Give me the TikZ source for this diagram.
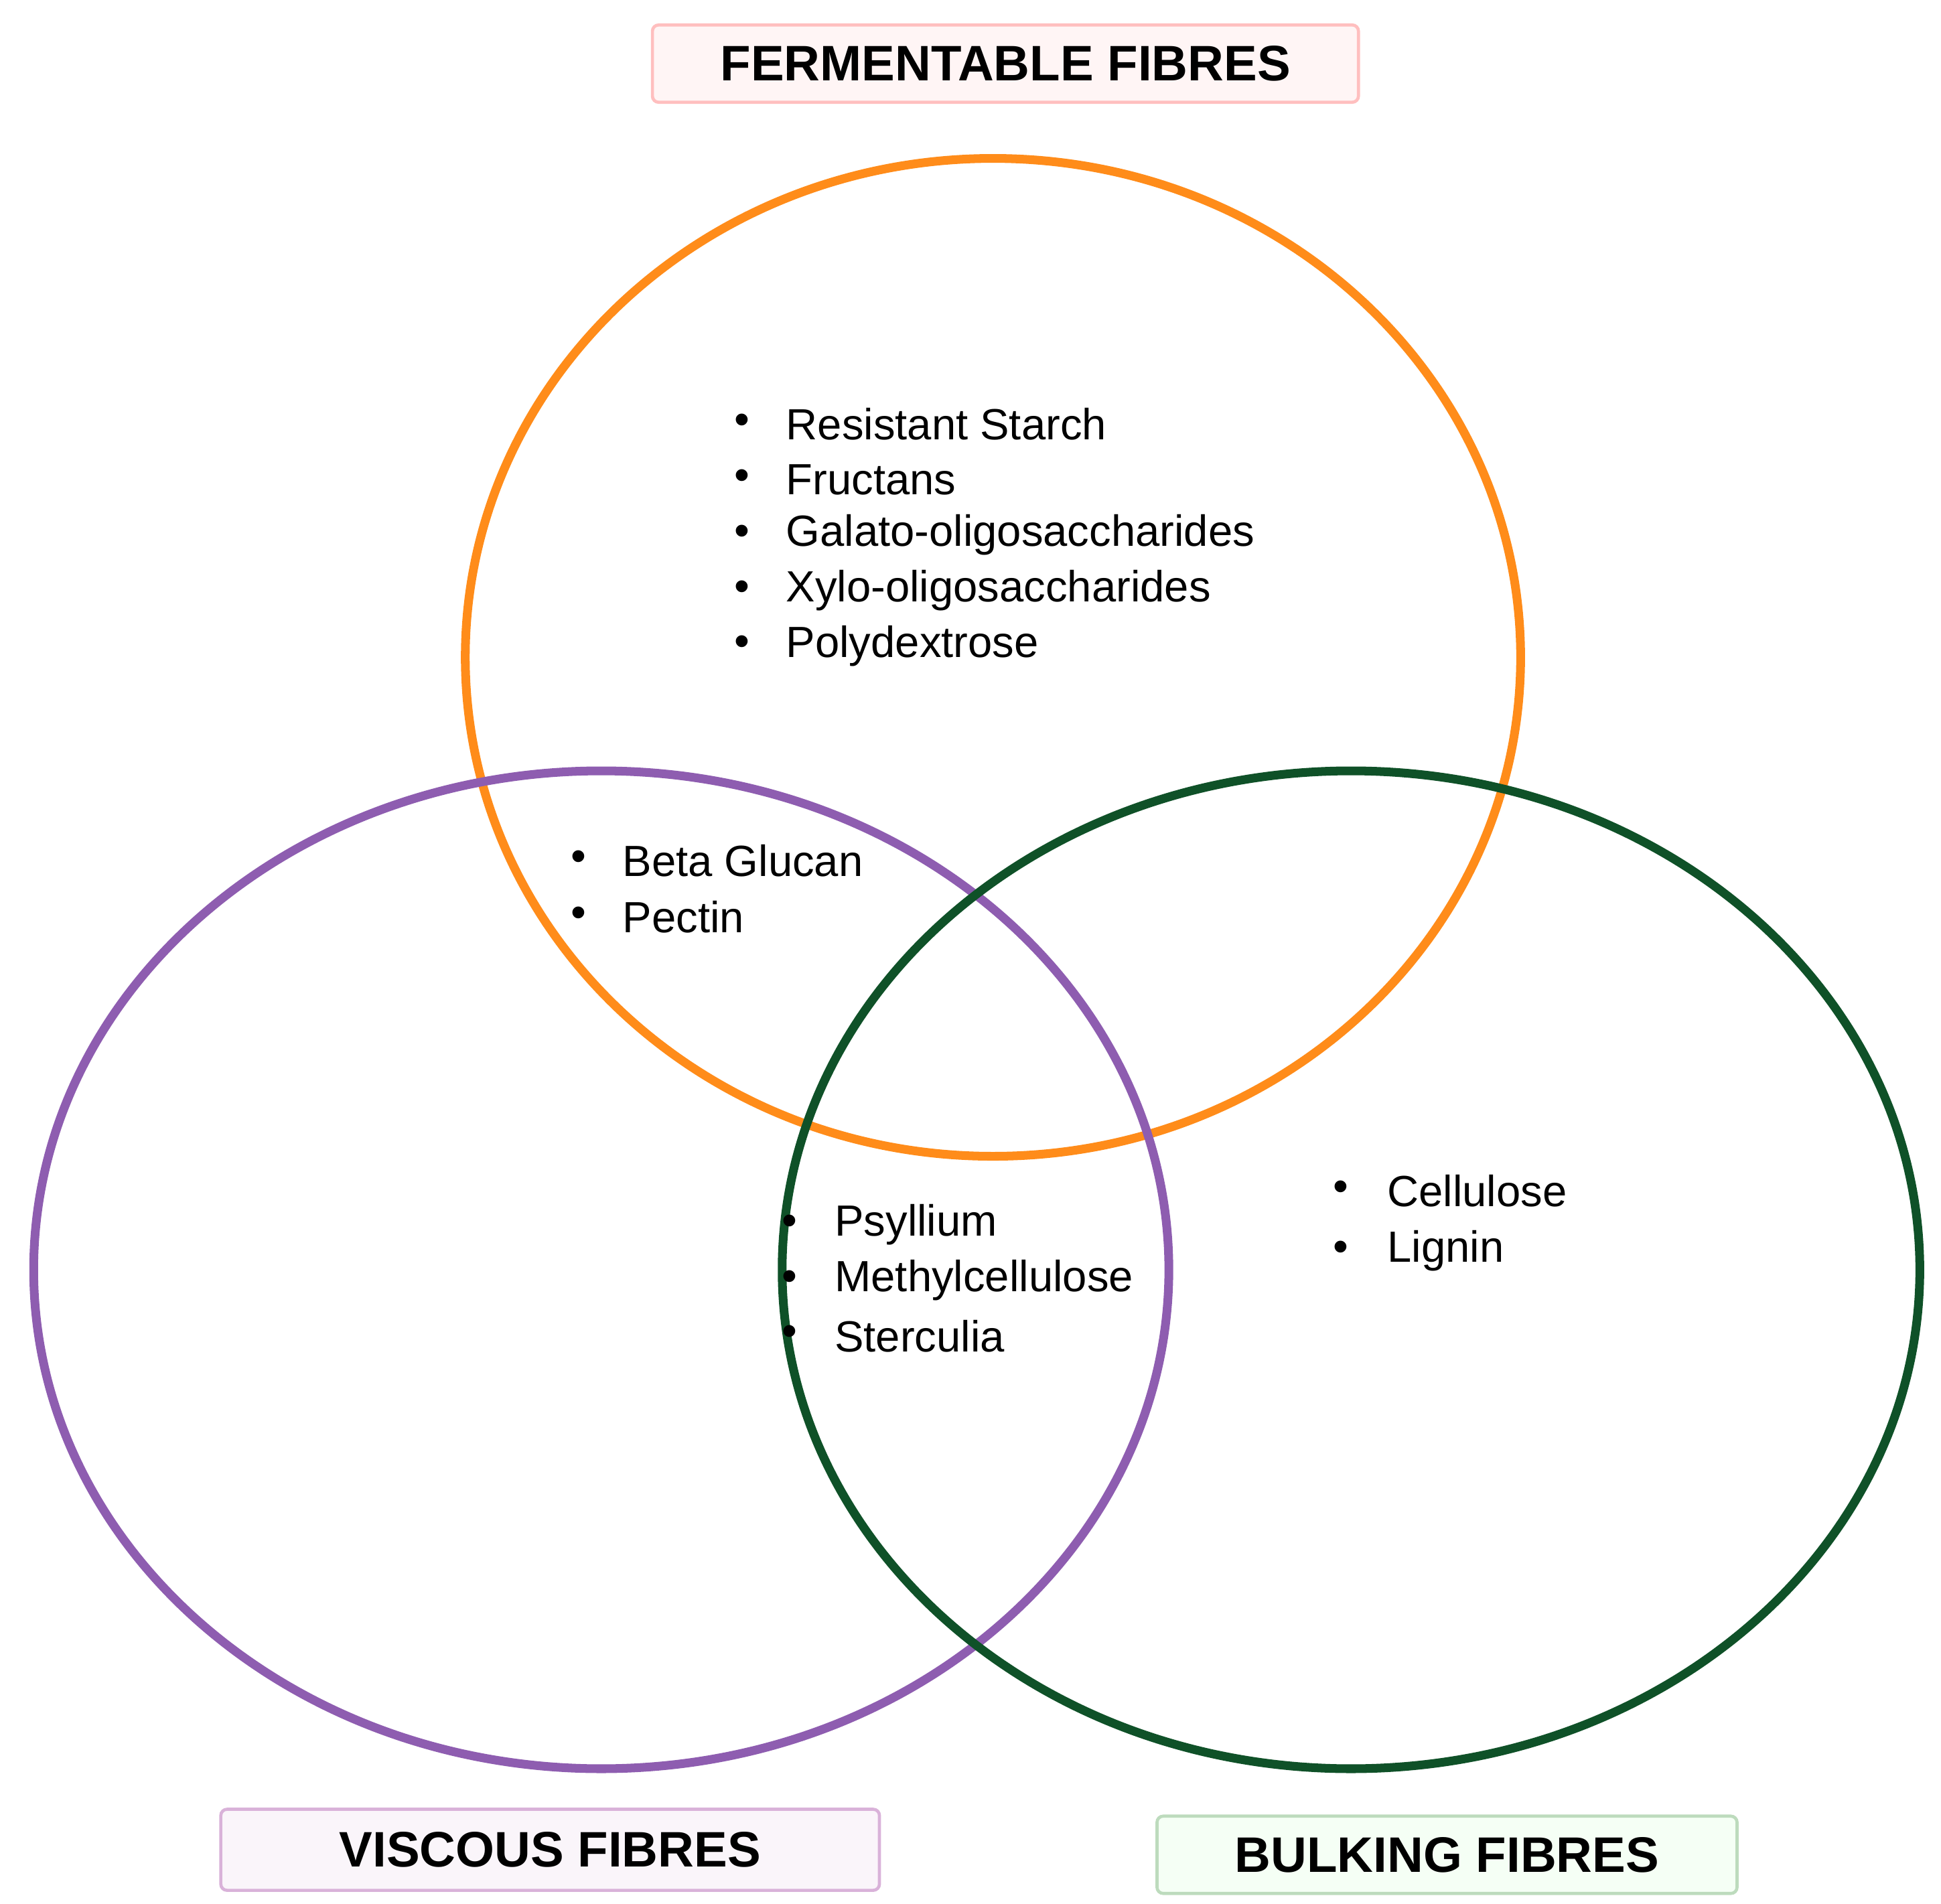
\documentclass[tikz,border=0pt]{standalone}
\usepackage{fontspec}
\setmainfont{Liberation Sans}
\begin{document}
\begin{tikzpicture}[x=1pt,y=-1pt,
  ring/.style={line width=7pt},
  title/.style={draw, line width=2.5pt, rounded corners=5pt, font=\fontsize{40}{40}\selectfont\bfseries, inner sep=0pt},
  item/.style={anchor=west, font=\fontsize{35}{35}\selectfont, inner sep=0pt},
  dot/.style={anchor=center, font=\fontsize{35}{35}\selectfont, inner sep=0pt}]
\useasboundingbox (0,0) rectangle (1556,1526);
\definecolor{orng}{HTML}{FF8C1A}
\definecolor{purp}{HTML}{8E5DB0}
\definecolor{grn}{HTML}{0F5128}
\draw[ring, orng] (796,527) ellipse [x radius=423, y radius=400];
\draw[ring, purp] (482,1018) ellipse [x radius=455, y radius=400];
\draw[ring, grn] (1083,1018) ellipse [x radius=456, y radius=400];
\node[title, draw=red!25, fill=red!4, minimum width=566, minimum height=62] (tf) at (806,51) {FERMENTABLE FIBRES};
\node[title, draw=violet!30, fill=violet!4, minimum width=528, minimum height=65] (tv) at (441,1483) {VISCOUS FIBRES};
\node[title, draw=green!30!gray!40, fill=green!4, minimum width=465, minimum height=62] (tb) at (1160,1487) {BULKING FIBRES};
\foreach \t [count=\i] in {Resistant Starch,Fructans,Galato-oligosaccharides,Xylo-oligosaccharides,Polydextrose} {
  \pgfmathsetmacro\yy{340+44.5*(\i-1)}
  \node[dot] (fb\i) at (595,\yy) {\textbullet};
  \node[item] (f\i) at (630,\yy) {\t};
}
\foreach \t [count=\i] in {Beta Glucan,Pectin} {
  \pgfmathsetmacro\yy{690+45*(\i-1)}
  \node[dot] (vb\i) at (464,\yy) {\textbullet};
  \node[item] (v\i) at (499,\yy) {\t};
}
\foreach \t [count=\i] in {Psyllium,Methylcellulose,Sterculia} {
  \pgfmathsetmacro\yy{982+44.5*(\i-1)}
  \node[dot] (cb\i) at (633,\yy) {\textbullet};
  \node[item] (c\i) at (669,\yy) {\t};
}
\foreach \t [count=\i] in {Cellulose,Lignin} {
  \pgfmathsetmacro\yy{955+48*(\i-1)}
  \node[dot] (bb\i) at (1075,\yy) {\textbullet};
  \node[item] (b\i) at (1112,\yy) {\t};
}
\end{tikzpicture}
\end{document}
